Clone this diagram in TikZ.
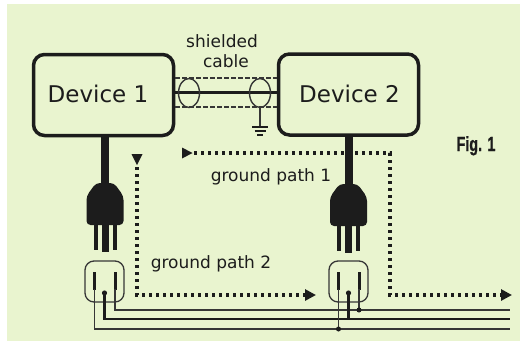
\documentclass[tikz,border=0pt]{standalone}
\usepackage{fontspec}
\setmainfont{DejaVu Sans}
\newfontfamily\figfont[FakeBold=1.2]{Liberation Sans}
\usetikzlibrary{arrows.meta,shapes.geometric,calc}
\definecolor{paper}{HTML}{E9F4CF}
\definecolor{ink}{HTML}{1C1C1C}
\definecolor{wire}{HTML}{363636}

\begin{document}
\begin{tikzpicture}[x=1pt,y=-1pt,
  device/.style={draw=ink, line width=3.5pt, rounded corners=11pt,
    minimum width=140pt, minimum height=81pt, inner sep=0pt},
  devtext/.style={text=ink, anchor=base, inner sep=0pt,
    font=\fontsize{23}{27}\selectfont},
  lbl/.style={text=ink, anchor=base, inner sep=0pt,
    font=\fontsize{17}{20}\selectfont},
  sleeve/.style={ellipse, draw=wire, line width=1.4pt, inner sep=0pt,
    minimum width=21pt, minimum height=29pt},
  shield/.style={draw=wire, line width=1.2pt, dash pattern=on 4.5pt off 2.5pt},
  core/.style={draw=ink, line width=3pt},
  cord/.style={draw=ink, line width=8pt},
  thinwire/.style={draw=wire, line width=1.3pt},
  gwire/.style={draw=ink, line width=2.6pt},
  gpath/.style={draw=ink, line width=3.2pt, dash pattern=on 3pt off 4pt,
    -{Triangle[length=11pt,width=11pt]}},
  junction/.style={circle, fill=ink, inner sep=0pt, minimum size=5pt},
  plug/.pic={
    \fill[ink, rounded corners=4pt] (-9,0) -- (-18.5,13) -- (-18.5,42)
      -- (18.5,42) -- (18.5,13) -- (9,0) -- cycle;
    \fill[ink] (-11.5,40) rectangle (-7.5,67);
    \fill[ink] (-3.5,40) rectangle (3.5,69);
    \fill[ink] (7.5,40) rectangle (11.5,67);
    \coordinate (-top) at (0,1);
  },
  outlet/.pic={
    \draw[wire, line width=1.3pt, rounded corners=9pt] (-19.5,0) rectangle (19.5,41);
    \draw[ink, line width=3pt] (-10,11) -- (-10,29);
    \draw[ink, line width=3pt] (10.5,11) -- (10.5,29);
    \fill[ink] (0,32) circle (2.6pt);
    \coordinate (-L) at (-10,28);
    \coordinate (-R) at (10.5,28);
    \coordinate (-G) at (0,32);
  }]

\useasboundingbox (0,0) rectangle (520,341);
% paper
\fill[white] (0,0) rectangle (520,341);
\fill[paper] (7,4) rectangle (520,341);

% devices
\node[device] (dev1) at (103.5,95) {};
\node[device] (dev2) at (348.5,94.5) {};
\node[devtext] (dev1t) at (98,102) {Device 1};
\node[devtext] (dev2t) at (349.5,102) {Device 2};

% shielded cable
\coordinate (cabC) at (0,92);
\coordinate (cabT) at (0,78);
\coordinate (cabB) at (0,107);
\draw[shield] (dev1.east |- cabT) -- (dev2.west |- cabT);
\draw[shield] (dev1.east |- cabB) -- (dev2.west |- cabB);
\draw[core] (dev1.east |- cabC) -- (dev2.west |- cabC);
\node[sleeve] (sl1) at (189,93) {};
\node[sleeve] (sl2) at (260,93) {};
\node[lbl] (shl1) at (222,47) {shielded};
\node[lbl] (shl2) at (226,67) {cable};

% shield ground
\coordinate (gnd) at (260,127);
\draw[wire, line width=1.4pt] (sl2.south) -- (gnd);
\draw[ink, line width=1.6pt] ($(gnd)+(-8,0)$) -- ($(gnd)+(8,0)$);
\draw[ink, line width=1.6pt] ($(gnd)+(-5.5,4)$) -- ($(gnd)+(5.5,4)$);
\draw[ink, line width=1.6pt] ($(gnd)+(-3,8)$) -- ($(gnd)+(3,8)$);

% plugs and cords
\pic (pl1) at (105,183) {plug};
\pic (pl2) at (348.5,184) {plug};
\draw[cord] (dev1.south -| pl1-top) -- (pl1-top);
\draw[cord] (dev2.south -| pl2-top) -- (pl2-top);

% outlets
\pic (o1) at (104.5,261) {outlet};
\pic (o2) at (348.5,261) {outlet};

% mains wiring
\coordinate (endR) at (510,310);
\coordinate (endG) at (510,319);
\coordinate (endL) at (510,329);
\draw[thinwire] (o1-R) |- (endR);
\draw[gwire] (o1-G) |- (endG);
\draw[thinwire] (o1-L) |- (endL);
\draw[thinwire] (o2-R) -- (o2-R |- endR) node[junction] {};
\draw[gwire] (o2-G) -- (o2-G |- endG);
\draw[thinwire] (o2-L) -- (o2-L |- endL) node[junction] {};

% ground path 1
\coordinate (g1a) at (194,153);
\coordinate (g1c) at (390,295);
\coordinate (g1d) at (512,295);
\fill[ink] ($(g1a)+(-12,-5.5)$) -- ($(g1a)+(-1.5,0)$) -- ($(g1a)+(-12,5.5)$) -- cycle;
\draw[gpath] (g1a) -| (g1c) -- (g1d);
\node[lbl] (gp1) at (271,181) {ground path 1};

% ground path 2
\coordinate (g2a) at (137,167);
\coordinate (g2c) at (316,295);
\fill[ink] ($(g2a)+(-5.5,-13)$) -- ($(g2a)+(5.5,-13)$) -- ($(g2a)+(0,-2)$) -- cycle;
\draw[gpath] (g2a) |- (g2c);
\node[lbl] (gp2) at (211,268) {ground path 2};

% caption
\node[text=ink, anchor=base, inner sep=0pt, xscale=0.7,
  font=\figfont\bfseries\fontsize{20.5}{23}\selectfont] (fig) at (476,151) {Fig. 1};
\end{tikzpicture}
\end{document}
